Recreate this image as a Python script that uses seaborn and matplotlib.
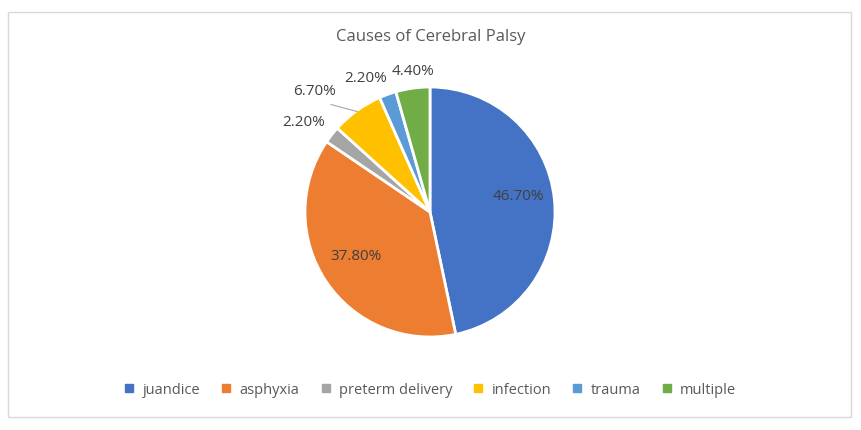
import numpy as np
import matplotlib
matplotlib.use("Agg")
import matplotlib.pyplot as plt
import seaborn as sns
from matplotlib.patches import Rectangle
from matplotlib.lines import Line2D

causes = ["juandice", "asphyxia", "preterm delivery", "infection", "trauma", "multiple"]
shares = [46.70, 37.80, 2.20, 6.70, 2.20, 4.40]
colors = ["#4472C4", "#ED7D31", "#A5A5A5", "#FFC000", "#5B9BD5", "#70AD47"]

sns.set_theme(style="white")
plt.rcParams["font.family"] = ["Open Sans", "DejaVu Sans"]
txt = "#595959"
lab = "#404040"

fig = plt.figure(figsize=(8.61, 4.30), dpi=100)
fig.patches.append(Rectangle((8 / 861, 13 / 430), 843 / 861, 405 / 430,
                             transform=fig.transFigure, fill=False,
                             edgecolor="#D9D9D9", linewidth=1))

# pie axes: center (430, 212), radius 125 px
ax = fig.add_axes([(430 - 125) / 861, (430 - 337) / 430, 250 / 861, 250 / 430])
wedges, _ = ax.pie(shares, colors=colors, startangle=90, counterclock=False,
                   wedgeprops=dict(edgecolor="white", linewidth=2))
ax.set_xlim(-1, 1)
ax.set_ylim(-1, 1)
ax.set_aspect("auto")
ax.axis("off")

# label radius and angular nudge (deg) per slice
lab_r = [0.72, 0.69, 1.24, 1.34, 1.19, 1.13]
lab_da = [4, -3, 3, 8, 6, -1]
for w, val, r, da in zip(wedges, shares, lab_r, lab_da):
    mid = np.deg2rad((w.theta1 + w.theta2) / 2 + da)
    ax.text(r * np.cos(mid), r * np.sin(mid), f"{val:.2f}%", ha="center",
            va="center", fontsize=11, color=lab, clip_on=False)

# leader line for infection label
w = wedges[3]
mid = np.deg2rad((w.theta1 + w.theta2) / 2)
ax.plot([0.99 * np.cos(mid), 1.17 * np.cos(mid + 0.12)],
        [0.99 * np.sin(mid), 1.17 * np.sin(mid + 0.12)],
        color="#A6A6A6", linewidth=0.8, clip_on=False)

fig.text(0.5, 1 - 37 / 430, "Causes of Cerebral Palsy", ha="center",
         va="center", fontsize=12, color=txt)

handles = [Line2D([], [], marker="s", linestyle="", markersize=6,
                  markerfacecolor=c, markeredgecolor=c) for c in colors]
fig.legend(handles, causes, loc="center", bbox_to_anchor=(0.5, 1 - 390 / 430),
           ncol=6, frameon=False, fontsize=10.5, labelcolor=txt,
           handlelength=0.6, handletextpad=0.6, columnspacing=1.5)

fig.savefig("out.png", dpi=100)
